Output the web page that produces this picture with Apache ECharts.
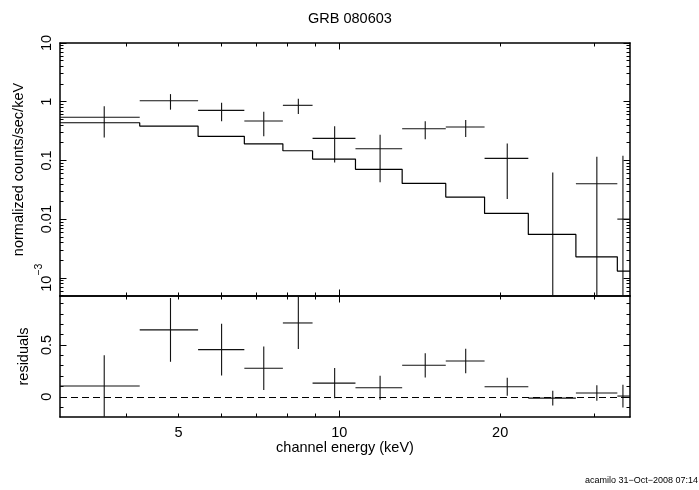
<!DOCTYPE html>
<html><head><meta charset="utf-8">
<script src="https://cdn.jsdelivr.net/npm/echarts@6/dist/echarts.min.js"></script>
<style>html,body{margin:0;padding:0;background:#fff}#c{width:699px;height:490px}</style>
</head><body><div id="c"></div>
<script>
// ---- data ----
const binEdges   = [3.0, 4.23, 5.44, 6.64, 7.84, 8.91, 10.72, 13.11, 15.82, 18.70, 22.58, 27.72, 33.14, 35.0];
const binCenters = [3.63, 4.83, 6.02, 7.22, 8.38, 9.80, 11.92, 14.48, 17.24, 20.62, 25.09, 30.34, 33.95];
const rates      = [0.542, 1.039, 0.713, 0.468, 0.868, 0.2375, 0.158, 0.346, 0.370, 0.1083, -0.0075, 0.040, 0.0100];
const rateErrors = [0.296, 0.3075, 0.25, 0.209, 0.251, 0.145, 0.1157, 0.117, 0.1185, 0.0864, 0.070, 0.075, 0.110];
const modelRates = [0.438, 0.385, 0.257, 0.192, 0.146, 0.1054, 0.0704, 0.0406, 0.0237, 0.01252, 0.00549, 0.00228, 0.0013];
const residuals  = [0.104, 0.645, 0.455, 0.275, 0.712, 0.132, 0.087, 0.304, 0.345, 0.097, -0.013, 0.036, 0.007];

// ---- axes / ticks ----
const xMin = 3, xMax = 35;
const xMinorTicks = [4, 5, 6, 7, 8, 9, 20, 30];
const xMajorTicks = [10];
const xTickLabels = [5, 10, 20];
const yTopMin = 4.9e-4, yTopMax = 10;
const yTopMajor = [0.001, 0.01, 0.1, 1, 10];
const yTopLabels = ['{b|10}{s|\u22123}', '0.01', '0.1', '1', '10'];
const yTopMinor = [];
[1e-4, 1e-3, 1e-2, 1e-1, 1].forEach(d => { for (let k = 2; k <= 9; k++) yTopMinor.push(+(k * d).toPrecision(3)); });
const yResMin = -0.195, yResMax = 0.972;
const yResMajor = [0, 0.5];
const yResMinor = [-0.1, 0.1, 0.2, 0.3, 0.4, 0.6, 0.7, 0.8, 0.9];
const yResLabels = ['0', '0.5'];

const FONT = 'Liberation Sans, Arial, Helvetica, sans-serif';
const BLACK = '#000';
const MINOR_LEN = 3.5, MAJOR_LEN = 6.5;
const FRAME_W = 1.5;

function axisBase(type, gridIndex, position, ticks, len, showLine) {
  return {
    type: type, gridIndex: gridIndex, position: position,
    axisLine: { show: showLine, onZero: false, lineStyle: { color: BLACK, width: FRAME_W } },
    axisTick: { show: true, inside: true, length: len, customValues: ticks, lineStyle: { color: BLACK, width: 1 } },
    axisLabel: { show: false },
    splitLine: { show: false },
    minorTick: { show: false },
    silent: true
  };
}
function xAx(gridIndex, position, ticks, len, showLine) {
  const a = axisBase('log', gridIndex, position, ticks, len, showLine);
  a.logBase = 10; a.min = xMin; a.max = xMax;
  return a;
}
function yTop(position, ticks, len, showLine) {
  const a = axisBase('log', 0, position, ticks, len, showLine);
  a.logBase = 10; a.min = yTopMin; a.max = yTopMax;
  return a;
}
function yRes(position, ticks, len, showLine) {
  const a = axisBase('value', 1, position, ticks, len, showLine);
  a.min = yResMin; a.max = yResMax;
  return a;
}

const xAxes = [
  xAx(0, 'bottom', xMinorTicks, MINOR_LEN, true),
  xAx(0, 'bottom', xMajorTicks, MAJOR_LEN, false),
  xAx(0, 'top', xMinorTicks, MINOR_LEN, true),
  xAx(0, 'top', xMajorTicks, MAJOR_LEN, false),
  xAx(1, 'bottom', xMinorTicks, MINOR_LEN, true),
  xAx(1, 'bottom', xMajorTicks, MAJOR_LEN, false),
  xAx(1, 'top', xMinorTicks, MINOR_LEN, true),
  xAx(1, 'top', xMajorTicks, MAJOR_LEN, false)
];
xAxes[4].axisLabel = { show: true, customValues: xTickLabels, margin: 8, fontSize: 14.5, color: BLACK, fontFamily: FONT };
xAxes[4].name = 'channel energy (keV)';
xAxes[4].nameLocation = 'middle';
xAxes[4].nameGap = 23;
xAxes[4].nameTextStyle = { fontSize: 14.5, color: BLACK, fontFamily: FONT };

const yAxes = [
  yTop('left', yTopMinor, MINOR_LEN, true),
  yTop('left', yTopMajor, MAJOR_LEN, false),
  yTop('right', yTopMinor, MINOR_LEN, true),
  yTop('right', yTopMajor, MAJOR_LEN, false),
  yRes('left', yResMinor, MINOR_LEN, true),
  yRes('left', yResMajor, MAJOR_LEN, false),
  yRes('right', yResMinor, MINOR_LEN, true),
  yRes('right', yResMajor, MAJOR_LEN, false)
];
yAxes[0].axisLabel = {
  show: true, customValues: yTopMajor, rotate: 90, margin: 6,
  fontSize: 14.5, color: BLACK, fontFamily: FONT,
  formatter: function (v) {
    const lg = Math.round(Math.log10(v));
    const i = yTopMajor.findIndex(t => Math.round(Math.log10(t)) === lg);
    return i >= 0 ? yTopLabels[i] : '';
  },
  rich: {
    b: { fontSize: 14.5, color: BLACK, fontFamily: FONT, lineHeight: 20, verticalAlign: 'bottom' },
    s: { fontSize: 10.5, color: BLACK, fontFamily: FONT, lineHeight: 20, verticalAlign: 'top' }
  }
};
yAxes[0].name = 'normalized counts/sec/keV';
yAxes[0].nameLocation = 'middle';
yAxes[0].nameGap = 29;
yAxes[0].nameTextStyle = { fontSize: 14.5, color: BLACK, fontFamily: FONT };
yAxes[4].axisLabel = {
  show: true, customValues: yResMajor, rotate: 90, margin: 6,
  fontSize: 14.5, color: BLACK, fontFamily: FONT,
  formatter: function (v) {
    const i = yResMajor.findIndex(t => Math.abs(t - v) < 1e-6);
    return i >= 0 ? yResLabels[i] : '';
  }
};
yAxes[4].name = 'residuals';
yAxes[4].nameLocation = 'middle';
yAxes[4].nameGap = 29;
yAxes[4].nameTextStyle = { fontSize: 14.5, color: BLACK, fontFamily: FONT };

// ---- series data ----
const crossData = rates.map((v, i) => [binEdges[i], binEdges[i + 1], binCenters[i], v, rateErrors[i]]);
const residData = residuals.map((v, i) => [binEdges[i], binEdges[i + 1], binCenters[i], v, rateErrors[i]]);
const modelStep = modelRates.map((m, i) => [binEdges[i], m]);
modelStep.push([binEdges[binEdges.length - 1], modelRates[modelRates.length - 1]]);

function makeCrossRenderer(isLog, floorVal) {
  return function (params, api) {
    const lo = api.value(0), hi = api.value(1), c = api.value(2), v = api.value(3), e = api.value(4);
    const children = [];
    const st = { stroke: '#111', lineWidth: 1.1 };
    if (!isLog || v > 0) {
      const p1 = api.coord([lo, v]), p2 = api.coord([hi, v]);
      children.push({ type: 'line', shape: { x1: p1[0], y1: p1[1], x2: p2[0], y2: p2[1] }, style: st });
    }
    let top = v + e, bot = v - e;
    if (isLog && bot <= floorVal) bot = floorVal;
    const q1 = api.coord([c, top]), q2 = api.coord([c, bot]);
    children.push({ type: 'line', shape: { x1: q1[0], y1: q1[1], x2: q2[0], y2: q2[1] }, style: st });
    return { type: 'group', children: children };
  };
}

const chart = echarts.init(document.getElementById('c'), null, { renderer: 'canvas' });
chart.setOption({
  backgroundColor: '#fff',
  animation: false,
  title: {
    text: 'GRB 080603', left: 303, top: 6,
    textStyle: { fontSize: 14.5, fontWeight: 'normal', color: BLACK, fontFamily: FONT }
  },
  grid: [
    { left: 60, right: 69, top: 43, height: 253 },
    { left: 60, right: 69, top: 296, height: 121 }
  ],
  xAxis: xAxes,
  yAxis: yAxes,
  series: [
    {
      type: 'line', name: 'model', xAxisIndex: 0, yAxisIndex: 0,
      data: modelStep, step: 'end', showSymbol: false, symbol: 'none',
      lineStyle: { color: BLACK, width: 1.2 }, clip: true, silent: true
    },
    {
      type: 'custom', name: 'data', xAxisIndex: 0, yAxisIndex: 0,
      data: crossData, renderItem: makeCrossRenderer(true, yTopMin), clip: true, silent: true,
      encode: { x: [0, 1, 2], y: [3] }
    },
    {
      type: 'custom', name: 'residuals', xAxisIndex: 4, yAxisIndex: 4,
      data: residData, renderItem: makeCrossRenderer(false, 0), clip: true, silent: true,
      encode: { x: [0, 1, 2], y: [3] }
    },
    {
      type: 'line', name: 'zero', xAxisIndex: 4, yAxisIndex: 4, data: [], silent: true,
      markLine: {
        silent: true, symbol: ['none', 'none'], label: { show: false },
        lineStyle: { color: BLACK, width: 1, type: [7, 4] },
        data: [{ yAxis: 0 }]
      }
    }
  ],
  graphic: [
    {
      type: 'text', right: 1, top: 476, silent: true,
      style: { text: 'acamilo 31\u2212Oct\u22122008 07:14', fontSize: 9, fill: BLACK, fontFamily: FONT }
    }
  ]
});
</script>
</body></html>
